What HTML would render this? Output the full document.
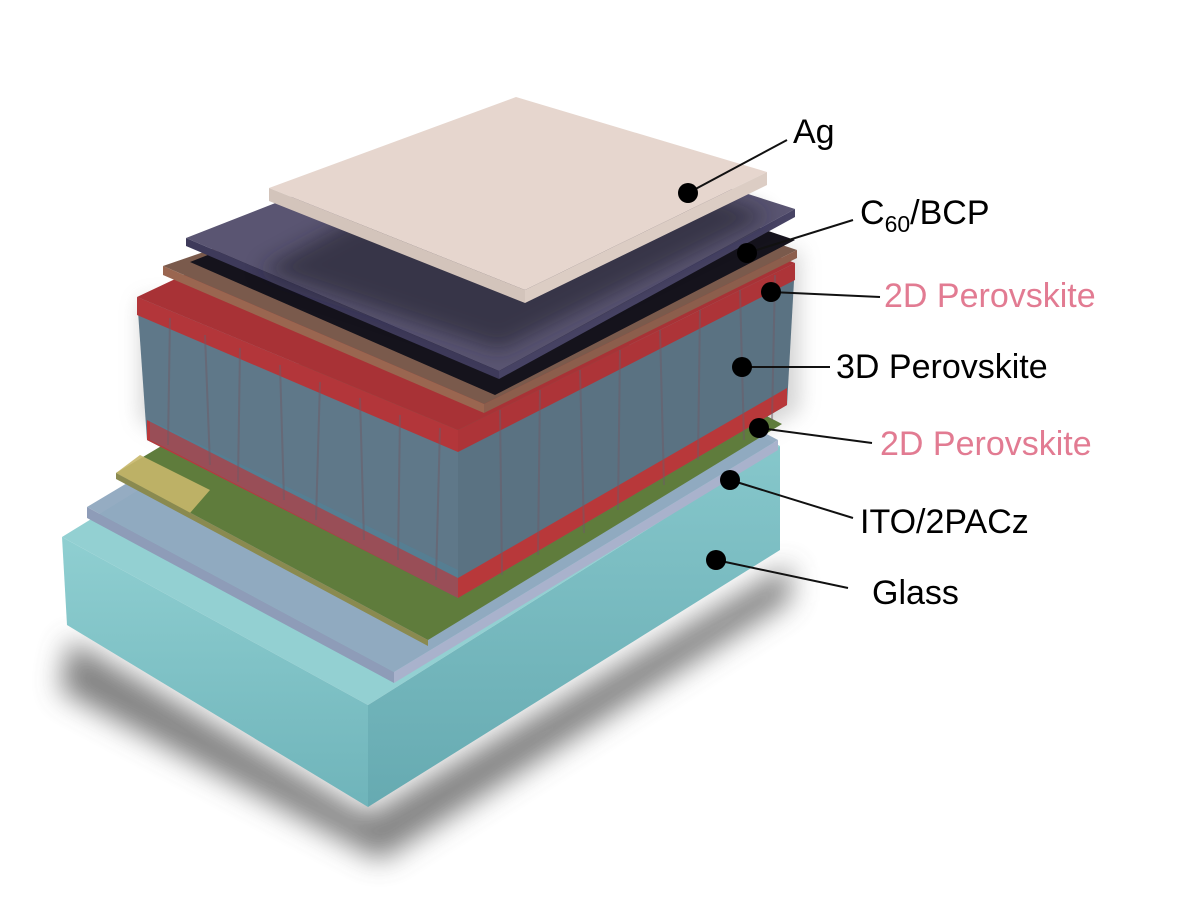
<!DOCTYPE html>
<html><head><meta charset="utf-8"><style>
html,body{margin:0;padding:0;background:#fff;}
svg{display:block;}
text{font-family:"Liberation Sans",Arial,sans-serif;font-size:34px;}
</style></head><body>
<svg width="1200" height="905" viewBox="0 0 1200 905" xmlns="http://www.w3.org/2000/svg">
<defs>
<filter id="bl" x="-30%" y="-30%" width="160%" height="160%"><feGaussianBlur stdDeviation="14"/></filter>
<filter id="bl2" x="-30%" y="-30%" width="160%" height="160%"><feGaussianBlur stdDeviation="10"/></filter>
<linearGradient id="gf" x1="0" y1="0" x2="0" y2="1"><stop offset="0" stop-color="#8fcfd1"/><stop offset="1" stop-color="#6fb4ba"/></linearGradient>
<linearGradient id="gr" x1="0" y1="0" x2="0" y2="1"><stop offset="0" stop-color="#86c7cb"/><stop offset="1" stop-color="#66aab1"/></linearGradient>
</defs>
<polygon points="70,640 368,815 790,565 790,600 380,860 60,690" fill="#555" opacity="0.75" filter="url(#bl)"/>
<polygon points="140,420 460,600 800,410 800,250 140,300" fill="#888" opacity="0.35" filter="url(#bl2)"/>
<!-- glass -->
<polygon points="62,537 368,705 780,446 472,285" fill="#93d0d2"/>
<polygon points="62,537 368,705 368,807 67,625" fill="url(#gf)"/>
<polygon points="368,705 780,446 780,550 368,807" fill="url(#gr)"/>
<!-- ITO -->
<polygon points="87,507 394,672 778,440 470,278" fill="#8fa8bf" opacity="0.95"/>
<polygon points="87,507 394,672 394,683 87,518" fill="#8e9cb8"/>
<polygon points="394,672 778,440 778,450 394,683" fill="#a9b2cc"/>
<!-- 2D bottom / green -->
<polygon points="116,473 428,640 782,424 470,262" fill="#5f7c3c"/>
<polygon points="116,473 190,513 210,490 140,455" fill="#c8b76a" opacity="0.9"/>
<polygon points="116,473 428,640 428,646 116,479" fill="#8a8a50"/>
<!-- block -->
<polygon points="137,297 458,430 458,598 147,440" fill="#5f7889"/>
<polygon points="458,430 795,263 787,405 458,598" fill="#5a7282"/>
<polygon points="147,420 458,578 458,598 147,440" fill="#b8383a"/>
<polygon points="458,578 787,388 787,405 458,598" fill="#b8383a"/>
<polygon points="150,440 458,598 458,570 150,420" fill="#3d8fb0" opacity="0.25"/>
<polygon points="137,297 458,430 458,452 137,315" fill="#b3363a"/>
<polygon points="458,430 795,263 795,280 458,452" fill="#ad3438"/>
<polygon points="137,297 458,430 795,263 470,140" fill="#a83236"/>
<g stroke="#6e5a66" stroke-width="2" opacity="0.5" fill="none">
<path d="M170 318 L168 445 M205 335 L210 465 M240 348 L238 482 M280 365 L284 500 M320 382 L316 520 M360 398 L364 540 M400 415 L398 560 M440 428 L436 580 M500 410 L502 575 M540 390 L538 555 M580 370 L584 533 M620 350 L618 510 M660 330 L664 485 M700 310 L698 460 M740 290 L744 440 M775 275 L772 420"/>
</g>
<!-- brown -->
<polygon points="163,266 484,404 797,250 500,150" fill="#7a5a4c"/>
<polygon points="163,266 484,404 484,413 163,275" fill="#9a6650"/>
<polygon points="484,404 797,250 797,258 484,413" fill="#8c5e4c"/>
<polygon points="190,262 495,395 795,240 500,140" fill="#15131c"/>
<!-- purple -->
<polygon points="186,238 499,371 795,209 500,115" fill="#5a5572"/>
<polygon points="186,238 499,371 499,379 186,246" fill="#3e3a5a"/>
<polygon points="499,371 795,209 795,217 499,379" fill="#474364"/>
<polygon points="260,270 500,350 770,215 520,130" fill="#1e1c26" opacity="0.55" filter="url(#bl2)"/>
<!-- Ag -->
<polygon points="269,188 525,290 767,172 516,97" fill="#e6d6ce"/>
<polygon points="269,188 525,290 525,303 269,201" fill="#d3c4bb"/>
<polygon points="525,290 767,172 767,185 525,303" fill="#dccdc4"/>
<g stroke="#111" stroke-width="2" fill="none">
<line x1="688" y1="193" x2="787" y2="140"/>
<line x1="747" y1="253" x2="853" y2="220"/>
<line x1="771" y1="292" x2="880" y2="297"/>
<line x1="742" y1="367" x2="830" y2="367"/>
<line x1="759" y1="428" x2="872" y2="443"/>
<line x1="730" y1="480" x2="853" y2="518"/>
<line x1="716" y1="560" x2="848" y2="588"/>
</g>
<g fill="#000">
<circle cx="688" cy="193" r="10"/>
<circle cx="747" cy="253" r="10"/>
<circle cx="771" cy="292" r="10"/>
<circle cx="742" cy="367" r="10"/>
<circle cx="759" cy="428" r="10"/>
<circle cx="730" cy="480" r="10"/>
<circle cx="716" cy="560" r="10"/>
</g>
<text x="793" y="143" fill="#000">Ag</text>
<text x="860" y="224" fill="#000">C<tspan font-size="23" dy="8">60</tspan><tspan dy="-8">/BCP</tspan></text>
<text x="884" y="307" fill="#e27b92">2D Perovskite</text>
<text x="836" y="378" fill="#000">3D Perovskite</text>
<text x="880" y="455" fill="#e27b92">2D Perovskite</text>
<text x="860" y="533" fill="#000">ITO/2PACz</text>
<text x="872" y="604" fill="#000">Glass</text>
</svg>
</body></html>
